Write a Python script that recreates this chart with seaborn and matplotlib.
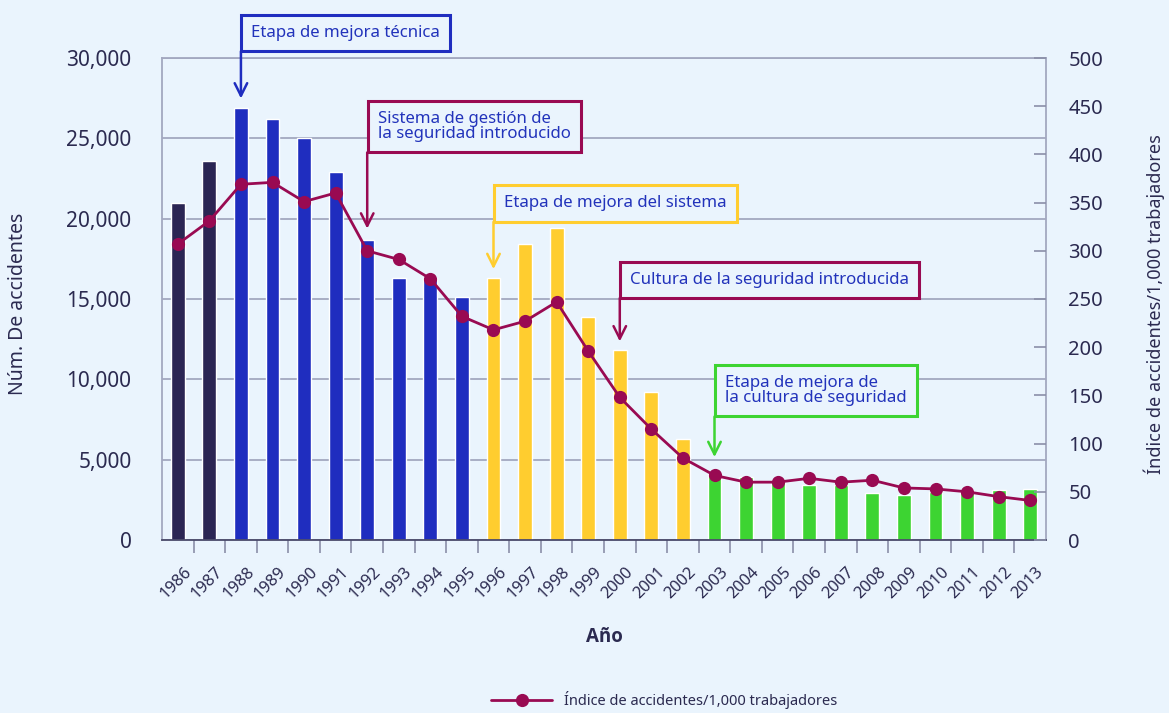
import numpy as np
import pandas as pd
import matplotlib
matplotlib.use('Agg')
import matplotlib.pyplot as plt
import matplotlib.transforms as mtransforms
import seaborn as sns
from matplotlib.ticker import FuncFormatter, MultipleLocator, FixedLocator

# ── data ────────────────────────────────────────────────────────────────────
years = list(range(1986, 2014))
phase = ['Inicial'] * 2 + ['Técnica'] * 8 + ['Sistema'] * 7 + ['Cultura'] * 11
accidents = [21000, 23600, 26900, 26200, 25000, 22900, 18700, 16300, 16300, 15100,
             16300, 18400, 19400, 13900, 11800, 9200, 6300,
             4200, 3900, 3700, 3400, 3400, 2950, 2800, 3000, 3050, 3100, 3150]
rate = [307, 331, 369, 371, 351, 360, 300, 291, 271, 232,
        218, 227, 247, 196, 148, 115, 85,
        67, 60, 60, 64, 60, 62, 54, 53, 50, 45, 41]

PALETTE = {'Inicial': '#2b2553', 'Técnica': '#1f2dbf', 'Sistema': '#ffcd2f', 'Cultura': '#3dd432'}
BG = '#eaf4fd'
NAVY = '#2b2a50'
LINE = '#990a52'
TXT_BLUE = '#2233bb'

# annotations: text, year, border colour, box bottom / arrow tip (right-axis units)
notes = [
    ('Etapa de mejora técnica', 1988, '#1f2dbf', 507, 458),
    ('Sistema de gestión de\nla seguridad introducido', 1992, '#990a52', 402, 323),
    ('Etapa de mejora del sistema', 1996, '#ffcd2f', 330, 281),
    ('Cultura de la seguridad introducida', 2000, '#990a52', 251, 206),
    ('Etapa de mejora de\nla cultura de seguridad', 2003, '#3dd432', 128, 86),
]

df = pd.DataFrame({'year': [str(y) for y in years], 'phase': phase,
                   'accidents': accidents, 'rate': rate})
df['pos'] = np.arange(len(df))

sns.set_theme(style='white')
plt.rcParams['font.family'] = ['Noto Sans', 'DejaVu Sans']
plt.rcParams['text.color'] = NAVY

fig = plt.figure(figsize=(11.69, 7.13), dpi=100, facecolor=BG)
ax = fig.add_axes([162/1169, 1 - 540/713, 884/1169, 482/713])
ax.set_facecolor(BG)

sns.barplot(data=df, x='year', y='accidents', hue='phase', palette=PALETTE,
            dodge=False, width=0.44, legend=False, saturation=1, ax=ax)
ax.set_xlim(-0.5, len(df) - 0.5)
ax.set_ylim(0, 30000)
ax.yaxis.set_major_locator(MultipleLocator(5000))
ax.yaxis.set_major_formatter(FuncFormatter(lambda v, p: f'{int(v):,}'))
ax.grid(axis='y', color='#a3a8c0', lw=1.3)
ax.set_axisbelow(True)
ax.tick_params(axis='y', length=0, pad=22, labelsize=15, labelcolor=NAVY)

# x ticks: labels at bars, tick marks between bars
ax.xaxis.set_major_locator(FixedLocator(df['pos']))
ax.set_xticklabels(df['year'])
ax.xaxis.set_minor_locator(FixedLocator(df['pos'][:-1] + 0.5))
ax.tick_params(axis='x', which='major', length=0, pad=21.5, labelsize=11.8, labelcolor=NAVY)
ax.tick_params(axis='x', which='minor', bottom=True, length=9.5, width=1.2, color='#8a8fa8')
shift = mtransforms.ScaledTranslation(11/100, 0, fig.dpi_scale_trans)
for lab in ax.get_xticklabels():
    lab.set_rotation(45)
    lab.set_ha('right')
    lab.set_va('center')
    lab.set_rotation_mode('anchor')
    lab.set_transform(lab.get_transform() + shift)

for side in ['left', 'right', 'top']:
    ax.spines[side].set_color('#a3a8c0')
    ax.spines[side].set_linewidth(1.3)
ax.spines['bottom'].set_color('#4a4a6a')
ax.spines['bottom'].set_linewidth(1.3)

ax.set_xlabel('Año', fontsize=13.5, fontweight='bold', family=['Open Sans', 'DejaVu Sans'],
              color=NAVY)
ax.xaxis.set_label_coords(0.5, -0.18)
ax.set_ylabel('Núm. De accidentes', fontsize=14, color=NAVY)
ax.yaxis.set_label_coords(-0.152, 0.49)

# right axis: accident rate
ax2 = ax.twinx()
sns.lineplot(data=df, x='pos', y='rate', ax=ax2, color=LINE, lw=2,
             marker='o', markersize=9.5, markeredgewidth=0,
             label='Índice de accidentes/1,000 trabajadores', legend=False)
ax2.set_ylim(0, 500)
ax2.yaxis.set_major_locator(MultipleLocator(50))
ax2.tick_params(axis='y', direction='in', length=8.6, width=1.2, color='#8a8fa8',
                pad=16, labelsize=14.5, labelcolor=NAVY)
ax2.set_ylabel('Índice de accidentes/1,000 trabajadores', fontsize=13, color=NAVY)
ax2.yaxis.set_label_coords(1.11, 0.49)
ax2.set_xlabel('')
for s in ax2.spines.values():
    s.set_visible(False)

# annotation boxes with arrows
for text, yr, col, bottom, tip in notes:
    x = years.index(yr)
    ax2.annotate('', xy=(x, tip), xytext=(x, bottom), annotation_clip=False,
                 arrowprops=dict(arrowstyle='->,head_length=0.9,head_width=0.45',
                                 mutation_scale=10, color=col, lw=1.8,
                                 shrinkA=0, shrinkB=0), zorder=6)
    ax2.annotate(text, xy=(x, bottom), xytext=(7.5, 7.5), textcoords='offset points',
                 ha='left', va='bottom', fontsize=12.1, color=TXT_BLUE, linespacing=0.95,
                 annotation_clip=False, zorder=7,
                 bbox=dict(boxstyle='square,pad=0.6', fc=BG, ec=col, lw=2.2))

h, l = ax2.get_legend_handles_labels()
fig.legend(h, l, loc='center', bbox_to_anchor=(664/1169, 1 - 700/713), frameon=False,
           fontsize=10.5, handlelength=4.2, labelcolor=NAVY)

fig.savefig('out.png', dpi=100, facecolor=BG)
